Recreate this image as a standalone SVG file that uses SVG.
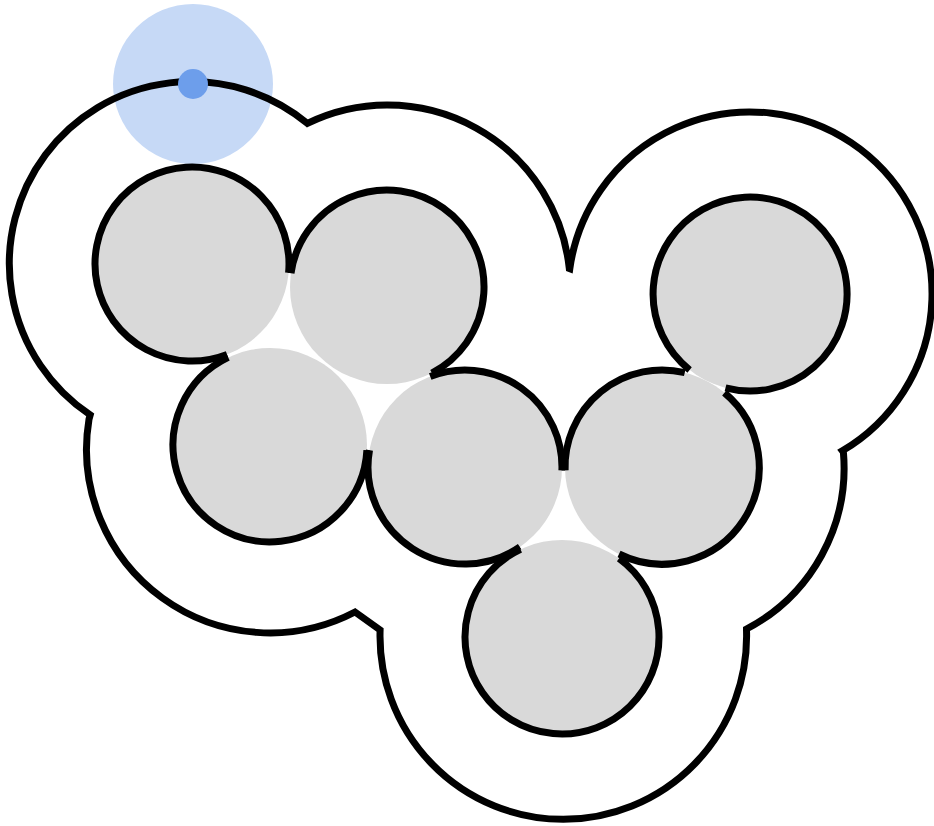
<svg xmlns="http://www.w3.org/2000/svg" width="934" height="826" viewBox="0 0 934 826">
<style>
.fill{fill:#d9d9d9;stroke:none}
.edge{fill:none;stroke:#000;stroke-width:7;stroke-linecap:butt}
.hull{fill:none;stroke:#000;stroke-width:7;stroke-linejoin:miter;stroke-miterlimit:10}
</style>
<rect width="934" height="826" fill="#fff"/>
<g id="handle-halo"><circle cx="193" cy="84" r="80" fill="#c6d9f6"/></g>
<g id="hull">
<path class="hull" d="M 90.2 414.9 A 182 182 0 1 1 307.4 123.4 A 183 183 0 0 1 569.3 268.5 L 569.8 268.7 A 182 182 0 1 1 842.4 450.8 L 843.4 452.1 A 182 182 0 0 1 746.5 629 L 746.5 630 A 183.3 183.3 0 1 1 380.1 630 L 355 612 A 183.5 183.5 0 0 1 89 419.3 Z"/>
</g>
<g id="connectors"></g>
<g id="node1"><circle class="fill" cx="192" cy="264" r="97"/><path class="edge" d="M 227.1 354.4 A 97 97 0 1 1 288.6 272.8"/></g>
<g id="node2"><circle class="fill" cx="387" cy="287" r="97"/><path class="edge" d="M 291 273.2 A 97 97 0 1 1 431.9 373"/></g>
<g id="node3"><circle class="fill" cx="270" cy="445" r="97"/><path class="edge" d="M 366.9 450.1 A 97 97 0 1 1 228.2 357.4"/></g>
<g id="node4"><circle class="fill" cx="465" cy="467" r="97"/><path class="edge" d="M 430.2 376.4 A 97 97 0 0 1 561.9 470.4"/><path class="edge" d="M 519.9 547 A 97 97 0 0 1 369.5 450.2"/></g>
<g id="node5"><circle class="fill" cx="662" cy="467" r="97"/><path class="edge" d="M 565.1 470.4 A 97 97 0 0 1 684.8 372.7"/><path class="edge" d="M 724.4 392.7 A 97 97 0 0 1 619 554"/></g>
<g id="node6"><circle class="fill" cx="750" cy="294" r="97"/><path class="edge" d="M 689.6 369.9 A 97 97 0 1 1 725.5 387.9"/></g>
<g id="node7"><circle class="fill" cx="562" cy="637" r="97"/><path class="edge" d="M 619 558.5 A 97 97 0 1 1 520.5 549.3"/></g>
<g id="handle"><circle cx="193" cy="84" r="15" fill="#6d9eeb"/></g>
</svg>
